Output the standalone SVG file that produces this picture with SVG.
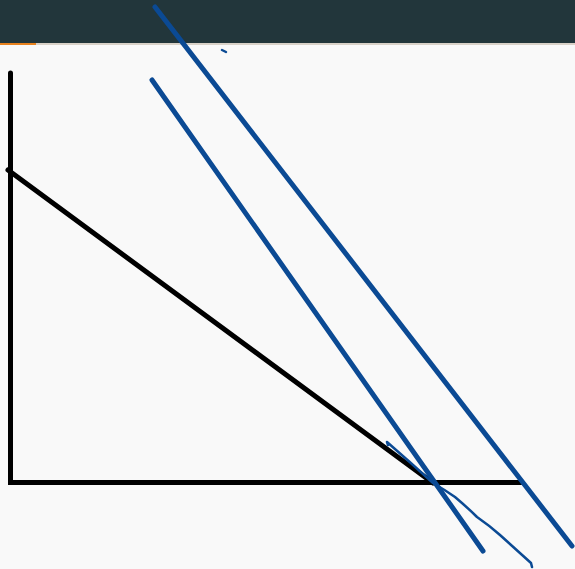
<svg xmlns="http://www.w3.org/2000/svg" width="575" height="569" viewBox="0 0 575 569">
<style>
.ax{stroke:#000;stroke-width:5;stroke-linecap:round;fill:none}
.bl{stroke:#0b4a94;stroke-width:5;stroke-linecap:round;fill:none}
.th{stroke:#0b4a94;stroke-width:2.5;stroke-linecap:round;stroke-linejoin:round;fill:none}
</style>
<rect width="575" height="569" fill="#f9f9f9"/>
<rect width="575" height="43" fill="#22363b"/>
<rect y="43" width="575" height="2" fill="#d9d2c8"/>
<rect y="43" width="36" height="2" fill="#e8821e"/>
<g id="axes">
<path class="ax" d="M10.5 73 V482.5 H521"/>
</g>
<g id="budget">
<path class="ax" d="M8 170 L433 483"/>
</g>
<g id="connectors">
<path class="bl" d="M155 7 L572 546"/>
<path class="bl" d="M152 80 L483 551"/>
<path class="th" d="M388 445 L387 442 Q410 462 433 483 Q445 490 455 497 Q468 508 477 517 Q490 526 500 535 L531 563 L532 567"/>
<path class="th" d="M222 50 L226 52" stroke-width="1.5"/>
</g>
</svg>
